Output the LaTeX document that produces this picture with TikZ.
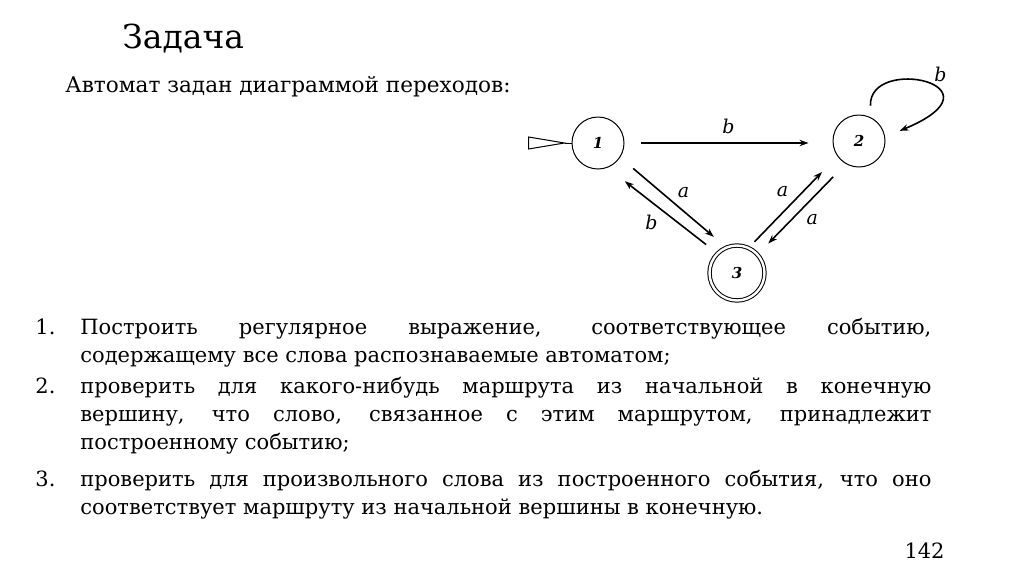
\documentclass[tikz,border=0pt]{standalone}
\usepackage{fontspec}
\setmainfont{DejaVu Serif}
\usepackage{tikz}
\usetikzlibrary{arrows.meta,calc}
\newcommand{\itemtext}[1]{\parbox[t]{425.5pt}{\hyphenpenalty=10000\relax
  \exhyphenpenalty=10000\relax #1}}

\begin{document}
\begin{tikzpicture}[x=0.5pt,y=-0.5pt,
  every node/.style={font=\fontsize{10.5}{14}\selectfont},
  txt/.style={anchor=base west,inner sep=0pt},
  state/.style={circle,draw,line width=0.5pt,minimum size=26pt,inner sep=0pt,
    font=\fontsize{7.5}{9}\selectfont\bfseries\itshape},
  accept/.style={state,double,double distance=1.2pt,minimum size=27.5pt},
  arr/.style={-{Stealth[length=4.5pt,width=3.2pt]},line width=0.8pt},
  lbl/.style={font=\fontsize{9.5}{11}\selectfont\itshape,inner sep=1pt}]
  \useasboundingbox[fill=white] (0,0) rectangle (1024,574);

  % heading
  \node[txt,font=\fontsize{16.5}{20}\selectfont] (title) at (122,48) {Задача};
  \node[txt,font=\fontsize{10.8}{14}\selectfont] (intro) at (65,92) {Автомат задан диаграммой переходов:};

  % automaton
  \node[state] (n1) at (598,143) {1};
  \node[state] (n2) at (859,141) {2};
  \node[accept] (n3) at (737,273) {3};

  \draw[line width=0.5pt] (n1.west) -- ++(-7,0) coordinate (tip);
  \draw[line width=0.5pt] (tip) -- ++(-36,-6) -- ++(0,12) -- cycle;

  \draw[arr,shorten <=8pt,shorten >=12pt] (n1.east) -- (n1.east -| n2.west)
    node[lbl,midway,above=3pt] (l12) {b};
  \draw[arr,shorten <=8.5pt,shorten >=8pt] (n1.-33) -- (n3.113)
    node[lbl,midway,above right=1pt] (l13) {a};
  \draw[arr,shorten <=7pt,shorten >=11pt] (n3.135) -- (n1.-69)
    node[lbl,midway,below left=1pt] (l31) {b};
  \draw[arr,shorten <=4pt,shorten >=11pt] (n3.65) -- (n2.215)
    node[lbl,midway,above left=1pt] (l32) {a};
  \draw[arr,shorten <=9pt,shorten >=7.5pt] (n2.240) -- (n3.42)
    node[lbl,midway,below right=1pt] (l23) {a};
  \draw[arr] ($(n2)!1.4!(n2.72)$) .. controls +(-2,-51) and +(110,-46) .. ($(n2)!1.58!(n2.14)$)
    node[lbl,pos=0.55,above right] (l22) {b};

  % task list
  \foreach \n/\y in {1/334,2/393,3/486}
    \node[txt] (num\n) at (35,\y) {\n.};
  \node[txt] (item1) at (80,334) {\itemtext{Построить регулярное выражение, соответствующее событию,\linebreak
    содержащему все слова распознаваемые автоматом;}};
  \node[txt] (item2) at (80,393) {\itemtext{проверить для какого-нибудь маршрута из начальной в конечную\linebreak
    вершину, что слово, связанное с этим маршрутом, принадлежит\linebreak
    построенному событию;}};
  \node[txt] (item3) at (80,486) {\itemtext{проверить для произвольного слова из построенного события, что оно\linebreak
    соответствует маршруту из начальной вершины в конечную.}};

  \node[anchor=base east,inner sep=0pt] (page) at (945,558) {142};
\end{tikzpicture}
\end{document}
